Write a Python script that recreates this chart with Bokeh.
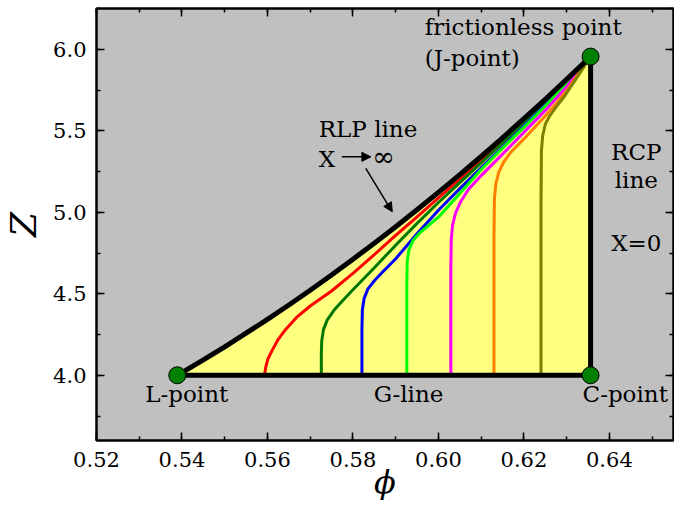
from bokeh.plotting import figure
from bokeh.models import (LinearAxis, Arrow, NormalHead, SingleIntervalTicker,
                          PrintfTickFormatter, CustomJSTickFormatter)
from bokeh.core.properties import value
from bokeh.embed import file_html
from bokeh.resources import INLINE

FONT = "DejaVu Serif"

# ---- data -------------------------------------------------------------
rlp_phi = [0.5389, 0.545, 0.550, 0.555, 0.560, 0.565, 0.570, 0.575, 0.580, 0.585,
           0.590, 0.595, 0.600, 0.605, 0.610, 0.615, 0.620, 0.625, 0.630, 0.6356]
rlp_z = [4.000, 4.094, 4.175, 4.258, 4.343, 4.431, 4.522, 4.615, 4.712, 4.810,
         4.911, 5.015, 5.122, 5.231, 5.342, 5.457, 5.574, 5.693, 5.815, 5.955]

g_phi = [0.5389, 0.6356]
g_z = [4.0, 4.0]
rcp_phi = [0.6356, 0.6356]
rcp_z = [4.0, 5.955]

pts_phi = [0.5389, 0.6356, 0.6356]
pts_z = [4.0, 4.0, 5.955]

red_phi = [0.5593, 0.5596, 0.5601, 0.5611, 0.5624, 0.5642, 0.5668, 0.570, 0.575, 0.580, 0.585,
           0.590, 0.595, 0.600, 0.605, 0.610, 0.615, 0.620, 0.625, 0.630, 0.6356]
red_z = [4.000, 4.050, 4.100, 4.153, 4.215, 4.280, 4.355, 4.425, 4.517, 4.625, 4.740,
         4.858, 4.972, 5.088, 5.203, 5.319, 5.438, 5.559, 5.682, 5.808, 5.955]

grn_phi = [0.5726, 0.5726, 0.5727, 0.5731, 0.5740, 0.5756, 0.5780, 0.580, 0.585, 0.590,
           0.595, 0.600, 0.605, 0.610, 0.615, 0.620, 0.625, 0.630, 0.6356]
grn_z = [4.000, 4.130, 4.210, 4.280, 4.340, 4.400, 4.470, 4.525, 4.660, 4.798,
         4.932, 5.060, 5.182, 5.303, 5.425, 5.549, 5.675, 5.804, 5.955]

blu_phi = [0.5821, 0.5821, 0.5822, 0.5826, 0.5835, 0.5850, 0.5870, 0.590, 0.595, 0.600,
           0.605, 0.610, 0.615, 0.620, 0.625, 0.630, 0.6356]
blu_z = [4.000, 4.280, 4.400, 4.470, 4.530, 4.580, 4.635, 4.715, 4.868, 5.012,
         5.145, 5.272, 5.399, 5.527, 5.657, 5.792, 5.955]

lim_phi = [0.5926, 0.5926, 0.5927, 0.5931, 0.5940, 0.5955, 0.5975, 0.600, 0.605, 0.610,
           0.615, 0.620, 0.625, 0.630, 0.6356]
lim_z = [4.000, 4.550, 4.700, 4.770, 4.825, 4.870, 4.915, 4.970, 5.115, 5.262,
         5.393, 5.521, 5.652, 5.789, 5.955]

mag_phi = [0.6029, 0.6029, 0.6030, 0.6033, 0.6040, 0.6052, 0.6070, 0.610, 0.615, 0.620,
           0.625, 0.630, 0.6356]
mag_z = [4.000, 4.650, 4.830, 4.920, 4.995, 5.065, 5.140, 5.225, 5.357, 5.490,
         5.625, 5.770, 5.955]

org_phi = [0.6130, 0.6130, 0.6131, 0.6134, 0.6141, 0.6153, 0.6170, 0.620, 0.625, 0.6275,
           0.630, 0.6325, 0.6356]
org_z = [4.000, 4.850, 5.080, 5.170, 5.245, 5.310, 5.370, 5.450, 5.590, 5.665,
         5.745, 5.840, 5.955]

olv_phi = [0.6240, 0.6240, 0.6241, 0.6244, 0.6250, 0.6260, 0.6275, 0.6295, 0.6320, 0.6340, 0.6356]
olv_z = [4.000, 5.050, 5.380, 5.470, 5.540, 5.590, 5.645, 5.712, 5.810, 5.890, 5.955]

curves = [
    (red_phi, red_z, "#ff0000"),
    (grn_phi, grn_z, "#007800"),
    (blu_phi, blu_z, "#0000ff"),
    (lim_phi, lim_z, "#00ff00"),
    (mag_phi, mag_z, "#ff00ff"),
    (org_phi, org_z, "#ff8000"),
    (olv_phi, olv_z, "#808000"),
]

# ---- figure -----------------------------------------------------------
p = figure(width=674, height=505, x_range=(0.52, 0.655), y_range=(3.60, 6.25),
           output_backend="svg", toolbar_location=None,
           x_axis_label="\u03d5", y_axis_label="Z",
           min_border_left=92, min_border_right=1, min_border_top=8, min_border_bottom=65)
p.background_fill_color = "#c0c0c0"
p.border_fill_color = "white"
p.outline_line_color = "black"
p.outline_line_width = 2
p.xgrid.visible = False
p.ygrid.visible = False

xt = SingleIntervalTicker(interval=0.02, num_minor_ticks=2)
yt = SingleIntervalTicker(interval=0.5, num_minor_ticks=2)
p.xaxis.ticker = xt
p.yaxis.ticker = yt
p.xaxis.formatter = PrintfTickFormatter(format="%.2f")
p.yaxis.formatter = PrintfTickFormatter(format="%.1f")

def style_axis(ax):
    ax.axis_line_width = 2
    ax.axis_line_color = "black"
    ax.major_tick_in = 8
    ax.major_tick_out = 0
    ax.minor_tick_in = 4
    ax.minor_tick_out = 0
    ax.major_tick_line_width = 1.5
    ax.minor_tick_line_width = 1.5
    ax.major_label_text_font = FONT
    ax.major_label_text_font_size = "21px"
    ax.major_label_text_color = "black"
    ax.axis_label_text_font = FONT
    ax.axis_label_text_font_style = "italic"
    ax.axis_label_text_color = "black"

for ax in p.xaxis + p.yaxis:
    style_axis(ax)
p.xaxis.major_label_standoff = 11
p.yaxis.major_label_standoff = 10
p.xaxis.axis_label_text_font_size = "32px"
p.yaxis.axis_label_text_font_size = "36px"
p.xaxis.axis_label_standoff = -7
p.yaxis.axis_label_standoff = 6

blank = CustomJSTickFormatter(code="return ''")
for loc, tk in (("right", yt), ("above", xt)):
    ax = LinearAxis(ticker=tk, formatter=blank)
    style_axis(ax)
    ax.major_label_text_font_size = "0px"
    ax.major_label_standoff = 0
    p.add_layout(ax, loc)

# ---- triangle fill ----------------------------------------------------
p.patch(rlp_phi + [rcp_phi[0]], rlp_z + [rcp_z[0]], fill_color="#ffff80", line_color=None)

for xs, ys, c in curves:
    p.line(xs, ys, line_color=c, line_width=3, line_join="round")

p.line(rlp_phi, rlp_z, line_color="black", line_width=5, line_join="round")
p.line(g_phi, g_z, line_color="black", line_width=5)
p.line(rcp_phi, rcp_z, line_color="black", line_width=5)

p.scatter(pts_phi, pts_z, size=17, fill_color="#008000", line_color="black", line_width=1)

# ---- annotations ------------------------------------------------------
tfont = dict(text_font=value(FONT), text_font_size="23px", text_color="black")
p.text(x=[0.5968, 0.5968, 0.5720, 0.5720], y=[6.138, 5.948, 5.512, 5.324],
       text=["frictionless point", "(J-point)", "RLP line", "X"],
       text_align="left", text_baseline="alphabetic", **tfont)
p.text(x=[0.6463, 0.6463, 0.6463, 0.5411, 0.5930, 0.6437],
       y=[5.369, 5.197, 4.812, 3.883, 3.883, 3.883],
       text=["RCP", "line", "X=0", "L-point", "G-line", "C-point"],
       text_align="center", text_baseline="alphabetic", **tfont)
p.text(x=[0.5845], y=[5.345], text=["\u221e"], text_align="left", text_baseline="middle",
       text_font=value(FONT), text_font_size="27px", text_color="black")

p.add_layout(Arrow(end=NormalHead(size=9, fill_color="black", line_color="black"),
                   x_start=0.5774, y_start=5.340, x_end=0.5842, y_end=5.340,
                   line_width=1.5, line_color="black"))
p.add_layout(Arrow(end=NormalHead(size=9, fill_color="black", line_color="black"),
                   x_start=0.5830, y_start=5.269, x_end=0.5892, y_end=5.003,
                   line_width=1.5, line_color="black"))

open("out.html", "w").write(file_html(p, INLINE))
